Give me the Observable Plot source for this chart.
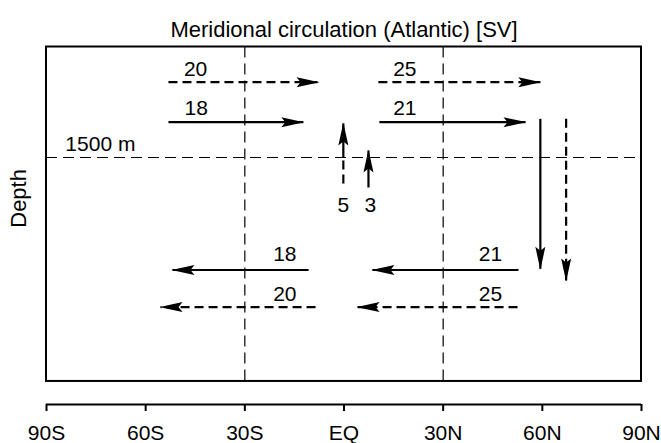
<!DOCTYPE html>
<html><head><meta charset="utf-8">
<script src="https://cdn.jsdelivr.net/npm/d3@7"></script>
<script src="https://cdn.jsdelivr.net/npm/@observablehq/plot@0.6"></script>
<style>body{margin:0;background:#fff}</style>
</head><body><div id="chart"></div>
<script>
// ---- data ----
const title = "Meridional circulation (Atlantic) [SV]";
const yLabel = "Depth";
const latTicks = [-90, -60, -30, 0, 30, 60, 90];
const latTickLabels = ["90S", "60S", "30S", "EQ", "30N", "60N", "90N"];
const oceanBottom = 4540;      // schematic depth of the box floor (m)
const axisDepth = 4853;        // level of the latitude axis below the box
const levelDepth = 1500;
const levelLabel = "1500 m";
const levelLabelLat = -84.3;
const levelLabelDepth = 1319;
const dividerLats = [-30, 30];

// transport arrows (two estimates: "high" and "low")
const arrowCase   = ["high", "low", "high", "low", "high", "low", "low", "high", "low", "high", "low", "high"];
const arrowLat1   = [-53.1, -53.1, 10.4, 10.7, -0.2, 7.4, 59.4, 67.2, -10.7, -8.6, 52.8, 52.5];
const arrowDepth1 = [478, 1021, 478, 1021, 1853, 1907, 975, 975, 3027, 3530, 3027, 3530];
const arrowLat2   = [-7.7, -12.3, 59.4, 54.9, -0.2, 7.4, 59.4, 67.2, -51.9, -55.5, 8.6, 4.1];
const arrowDepth2 = [478, 1021, 478, 1021, 1038, 1405, 3011, 3170, 3027, 3530, 3027, 3530];

// transport labels [Sv]
const labelText  = ["20", "18", "25", "21", "5", "3", "18", "20", "21", "25"];
const labelLat   = [-44.9, -44.7, 18.4, 18.4, -0.2, 8.0, -17.9, -17.9, 44.3, 44.3];
const labelDepth = [299, 828, 299, 828, 2145, 2145, 2817, 3360, 2817, 3360];

// ---- build tables ----
const arrows = arrowCase.map((c, i) => ({c, x1: arrowLat1[i], y1: arrowDepth1[i], x2: arrowLat2[i], y2: arrowDepth2[i]}));
// the upwelling "high" arrow is drawn dashed below the 1500 m level and solid above it
const segs = arrows.flatMap(a => {
  if (a.c === "high" && a.x1 === a.x2 && a.y1 > levelDepth && a.y2 < levelDepth) {
    return [
      {c: "high", x1: a.x1, y1: a.y1, x2: a.x1, y2: levelDepth, head: false},
      {c: "low", x1: a.x1, y1: levelDepth, x2: a.x2, y2: a.y2, head: true}
    ];
  }
  return [{...a, head: true}];
});
const labels = labelText.map((t, i) => ({t, x: labelLat[i], y: labelDepth[i]}));

function filledArrow(color) {
  const m = d3.create("svg:marker")
    .attr("viewBox", "-23 -6 24 12")
    .attr("markerWidth", 24).attr("markerHeight", 12)
    .attr("markerUnits", "userSpaceOnUse")
    .attr("orient", "auto")
    .attr("refX", 0).attr("refY", 0);
  m.append("path").attr("d", "M1,0L-22,-5L-18,0L-22,5Z").attr("fill", color).attr("stroke", "none");
  return m.node();
}

const font = "'Liberation Sans', Arial, Helvetica, sans-serif";

const chart = Plot.plot({
  width: 661,
  height: 443,
  marginLeft: 46,
  marginRight: 20,
  marginTop: 46.5,
  marginBottom: 39,
  style: {fontFamily: font, fontSize: "20px", color: "black", background: "white", overflow: "visible"},
  x: {domain: [-90, 90], axis: null},
  y: {domain: [0, axisDepth], reverse: true, axis: null},
  marks: [
    Plot.ruleX(dividerLats, {y1: 0, y2: oceanBottom, stroke: "black", strokeWidth: 1.2, strokeDasharray: "11,6"}),
    Plot.ruleY([levelDepth], {x1: -90, x2: 90, stroke: "black", strokeWidth: 1.2, strokeDasharray: "11,6"}),
    Plot.rect([0], {x1: -90, x2: 90, y1: 0, y2: oceanBottom, fill: "none", stroke: "black", strokeWidth: 2}),
    Plot.link(segs.filter(d => d.c === "low" && d.head), {x1: "x1", y1: "y1", x2: "x2", y2: "y2", stroke: "black", strokeWidth: 2.2, markerEnd: filledArrow}),
    Plot.link(segs.filter(d => d.c === "high" && d.head), {x1: "x1", y1: "y1", x2: "x2", y2: "y2", stroke: "black", strokeWidth: 2.2, strokeDasharray: "9,5", markerEnd: filledArrow}),
    Plot.link(segs.filter(d => !d.head), {x1: "x1", y1: "y1", x2: "x2", y2: "y2", stroke: "black", strokeWidth: 2.2, strokeDasharray: "9,5"}),
    Plot.text(labels, {x: "x", y: "y", text: "t", fontSize: 21, fill: "black"}),
    Plot.text([levelLabel], {x: levelLabelLat, y: levelLabelDepth, textAnchor: "start", fontSize: 21, fill: "black"}),
    Plot.text([title], {frameAnchor: "top", lineAnchor: "bottom", dy: -10, fontSize: 22, fill: "black"}),
    Plot.text([yLabel], {frameAnchor: "left", rotate: -90, dx: -27.5, dy: 2, fontSize: 22, fill: "black"}),
    Plot.ruleY([axisDepth], {stroke: "black", strokeWidth: 2}),
    Plot.axisX(latTicks, {tickSize: 7, tickPadding: 14, strokeWidth: 2, fontSize: 21, fill: "black",
      tickFormat: d => latTickLabels[latTicks.indexOf(d)]})
  ]
});
document.getElementById("chart").appendChild(chart);
</script>
</body></html>
